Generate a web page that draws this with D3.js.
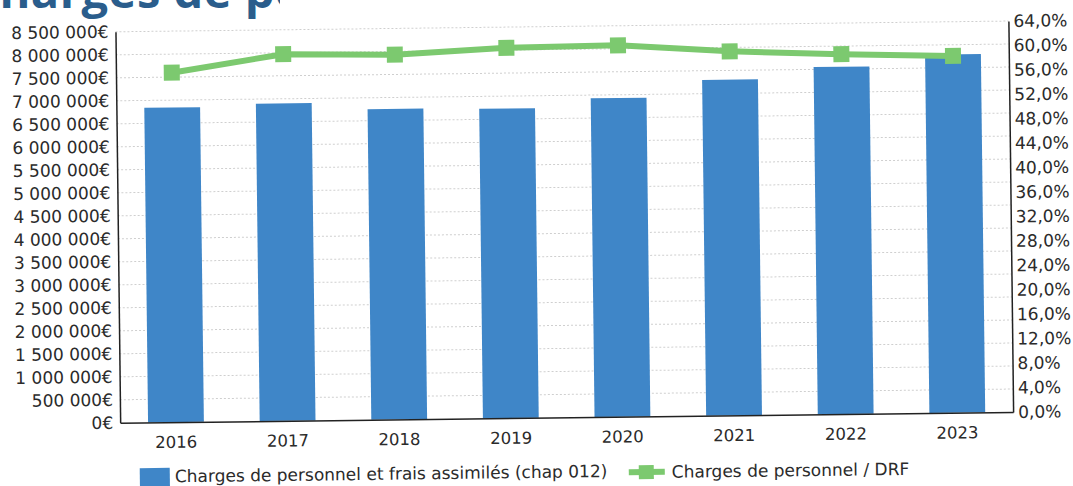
<!DOCTYPE html>
<html><head><meta charset="utf-8">
<script src="https://cdn.jsdelivr.net/npm/d3@7"></script>
<style>
html,body{margin:0;padding:0;background:#fff;}
svg{display:block;}
text{font-family:"DejaVu Sans",sans-serif;fill:#2b2b2b;}
</style></head>
<body>
<svg id="chart" width="1073" height="486"></svg>
<script>
const years = ["2016","2017","2018","2019","2020","2021","2022","2023"];
const charges = [6840000, 6900000, 6750000, 6730000, 6930000, 7300000, 7550000, 7790000];
const ratioDRF = [57.2, 60.0, 59.7, 60.6, 60.8, 59.6, 58.9, 58.4];
const leftTicks = [0,500000,1000000,1500000,2000000,2500000,3000000,3500000,4000000,4500000,5000000,5500000,6000000,6500000,7000000,7500000,8000000,8500000];
const rightTicks = [0,4,8,12,16,20,24,28,32,36,40,44,48,52,56,60,64];
const legendLabels = ["Charges de personnel et frais assimilés (chap 012)", "Charges de personnel / DRF"];
const titleText = "Charges de personnel";

const W = 1073, H = 486;
const m = {left:118, right:1011, top:26.4, bottom:417.4};
const blue = "#3f86c8", green = "#7cc96f";

const loc = d3.formatLocale({decimal:",", thousands:"\u00a0", grouping:[3], currency:["","€"]});
const fmtEur = loc.format("$,.0f");
const fmtPct = v => loc.format(",.1f")(v) + "%";

const svg = d3.select("#chart");
svg.append("rect").attr("width",W).attr("height",H).attr("fill","#fff");

// title (cut by the page edge, as in the scan)
svg.append("defs").append("clipPath").attr("id","tclip")
  .append("rect").attr("x",0).attr("y",0).attr("width",280).attr("height",22);
svg.append("text").attr("clip-path","url(#tclip)")
  .attr("x",-31).attr("y",8)
  .style("font-family","'Open Sans',sans-serif").style("font-weight","bold")
  .style("font-size","47px").style("letter-spacing","0.5px").style("fill","#2a5d8c")
  .text(titleText);

const g = svg.append("g").attr("transform","rotate(-0.69,565,240)");

const x = d3.scaleBand().domain(years).range([m.left, m.right]).paddingInner(0.5).paddingOuter(0.25);
const yL = d3.scaleLinear().domain([0,8500000]).range([m.bottom, m.top]);
const yR = d3.scaleLinear().domain([0,64]).range([m.bottom, m.top]);

// gridlines
g.append("g").selectAll("line").data(leftTicks.slice(1)).join("line")
  .attr("x1",m.left).attr("x2",m.right)
  .attr("y1",d=>yL(d)).attr("y2",d=>yL(d))
  .attr("stroke","#cfcfcf").attr("stroke-width",1).attr("stroke-dasharray","2,2");

// bars
g.append("g").selectAll("rect").data(charges).join("rect")
  .attr("x",(d,i)=>x(years[i])).attr("width",x.bandwidth())
  .attr("y",d=>yL(d)).attr("height",d=>yL(0)-yL(d))
  .attr("fill",blue);

// axes
const axL = d3.axisLeft(yL).tickValues(leftTicks).tickFormat(fmtEur).tickSize(0).tickPadding(7);
const gl = g.append("g").attr("transform",`translate(${m.left},0)`).call(axL);
gl.select(".domain").attr("stroke","#222").attr("stroke-width",1.5);
gl.selectAll("text").style("font-size","17px").style("font-family","'DejaVu Sans',sans-serif").attr("fill","#2b2b2b");

const axR = d3.axisRight(yR).tickValues(rightTicks).tickFormat(fmtPct).tickSize(0).tickPadding(5);
const gr = g.append("g").attr("transform",`translate(${m.right},0)`).call(axR);
gr.select(".domain").attr("stroke","#222").attr("stroke-width",1.5);
gr.selectAll("text").style("font-size","17px").style("font-family","'DejaVu Sans',sans-serif").attr("fill","#2b2b2b");

const axB = d3.axisBottom(x).tickSize(0).tickPadding(14);
const gb = g.append("g").attr("transform",`translate(0,${m.bottom})`).call(axB);
gb.select(".domain").attr("stroke","#222").attr("stroke-width",1.5);
gb.selectAll("text").style("font-size","16.5px").style("font-family","'DejaVu Sans',sans-serif").attr("fill","#2b2b2b");

// line
const line = d3.line().x((d,i)=>x(years[i])+x.bandwidth()/2).y(d=>yR(d));
g.append("path").datum(ratioDRF).attr("d",line)
  .attr("fill","none").attr("stroke",green).attr("stroke-width",6).attr("stroke-linejoin","round");
g.append("g").selectAll("rect").data(ratioDRF).join("rect")
  .attr("x",(d,i)=>x(years[i])+x.bandwidth()/2-8).attr("y",d=>yR(d)-8)
  .attr("width",16).attr("height",16).attr("fill",green);

// legend
const lg = g.append("g");
lg.append("rect").attr("x",137).attr("y",463).attr("width",30).attr("height",24).attr("fill",blue);
lg.append("text").attr("x",172).attr("y",477.5).style("font-size","17px").text(legendLabels[0]);
lg.append("line").attr("x1",626).attr("x2",662).attr("y1",473).attr("y2",473).attr("stroke",green).attr("stroke-width",6);
lg.append("rect").attr("x",636).attr("y",466).attr("width",15).attr("height",14).attr("fill",green);
lg.append("text").attr("x",669).attr("y",479).style("font-size","17px").text(legendLabels[1]);
</script>
</body></html>
